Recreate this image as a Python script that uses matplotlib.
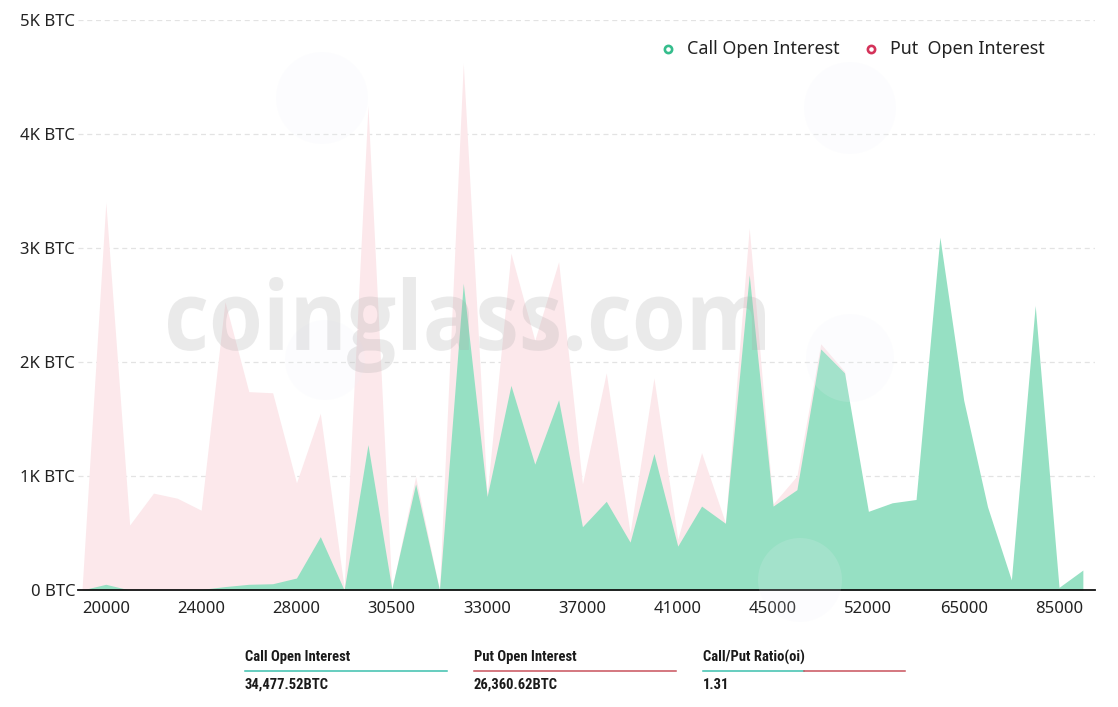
import numpy as np
from matplotlib import pyplot as plt
from matplotlib import font_manager
from matplotlib.font_manager import FontProperties
from matplotlib.textpath import TextPath
from matplotlib.patches import PathPatch, Circle
from matplotlib.transforms import Affine2D, IdentityTransform
from matplotlib.lines import Line2D

# strike prices (x categories)
strikes = [19000, 20000, 21000, 22000, 23000, 24000, 25000, 26000, 27000, 28000,
           29000, 29500, 30000, 30500, 31000, 31500, 32000, 33000, 34000, 35000,
           36000, 37000, 38000, 39000, 40000, 41000, 42000, 43000, 44000, 45000,
           46000, 48000, 50000, 52000, 55000, 58000, 60000, 65000, 70000, 75000,
           80000, 85000, 90000]

# open interest per strike, BTC
call_oi = [0, 50, 0, 0, 0, 5, 30, 50, 55, 105,
           468, 0, 1275, 10, 930, 0, 2690, 820, 1795, 1104,
           1669, 555, 778, 420, 1197, 385, 736, 585, 2765, 736,
           880, 2114, 1904, 690, 765, 794, 3095, 1664, 730, 88,
           2496, 23, 175]
put_oi = [0, 3400, 570, 850, 805, 700, 2530, 1740, 1730, 940,
          1550, 20, 4245, 0, 995, 0, 4620, 840, 2955, 2190,
          2880, 930, 1905, 500, 1860, 445, 1205, 590, 3175, 755,
          1000, 2160, 1918, 300, 210, 150, 420, 360, 120, 30,
          60, 0, 10]

y_ticks = [0, 1000, 2000, 3000, 4000, 5000]
y_labels = ["0 BTC", "1K BTC", "2K BTC", "3K BTC", "4K BTC", "5K BTC"]

stat_names = ["Call Open Interest", "Put Open Interest", "Call/Put Ratio(oi)"]
stat_values = ["34,477.52BTC", "26,360.62BTC", "1.31"]

GREEN_FILL = "#96e0c3"
PINK_FILL = "#fce8eb"
GREEN = "#35bd8c"
RED = "#d4335a"
TEAL_LINE = "#3cc0ae"
RED_LINE = "#c9525c"

W, H = 1118, 707


def pick_font(names):
    for n in names:
        try:
            font_manager.findfont(FontProperties(family=n), fallback_to_default=False)
            return n
        except ValueError:
            pass
    return "DejaVu Sans"


main_font = pick_font(["Noto Sans", "Open Sans", "DejaVu Sans"])
stat_font = pick_font(["Liberation Sans Narrow", "Roboto Condensed", "Roboto"])
plt.rcParams["font.family"] = [main_font, "DejaVu Sans"]

fig = plt.figure(figsize=(W / 100, H / 100), dpi=100)
ax = fig.add_axes([78 / W, 1 - 590 / H, (1095 - 78) / W, 570 / H])

x = np.arange(len(strikes))
ax.fill_between(x, put_oi, color=PINK_FILL, lw=0, zorder=2)
ax.fill_between(x, call_oi, color=GREEN_FILL, lw=0, zorder=3)

ax.set_xlim((78 - 82) / 23.83, (1095 - 82) / 23.83)
ax.set_ylim(0, 5000)
ax.set_yticks(y_ticks)
ax.set_yticklabels(y_labels)
ax.set_xticks(x[1::4])
ax.set_xticklabels([str(s) for s in strikes[1::4]])
ax.tick_params(axis="both", length=0, labelsize=12, colors="#222222")
ax.tick_params(axis="x", pad=8)
ax.tick_params(axis="y", pad=2)

for v in y_ticks[1:]:
    ax.axhline(v, color="#e3e3e3", lw=0.9, ls=(0, (4, 3)), zorder=1)

for s in ["top", "right", "left"]:
    ax.spines[s].set_visible(False)
ax.spines["bottom"].set_color("#111111")
ax.spines["bottom"].set_linewidth(1.3)
ax.spines["bottom"].set_zorder(6)

# faint logo blobs
for cx, cy, r in [(322, 98, 46), (850, 108, 46), (850, 358, 44), (325, 360, 40), (800, 580, 42)]:
    fig.add_artist(Circle((cx, H - cy), r, transform=IdentityTransform(),
                          fc="#eef1fa", ec="none", alpha=0.15, zorder=4))

# watermark text fitted into its box
tp = TextPath((0, 0), "coinglass.com", size=100,
              prop=FontProperties(family="Open Sans", weight="bold"))
ext = tp.get_extents()
tr = (Affine2D().translate(-ext.x0, -ext.y0)
      .scale((765 - 168) / ext.width, (373 - 277) / ext.height)
      .translate(168, H - 373))
fig.add_artist(PathPatch(tr.transform_path(tp), transform=IdentityTransform(),
                         fc="#a8a8a8", ec="none", alpha=0.23, zorder=5))

# legend
for mx, color, label in [(668, GREEN, "Call Open Interest"), (871, RED, "Put  Open Interest")]:
    fig.add_artist(Line2D([mx / W], [1 - 49 / H], marker="o", ms=5.2, mfc="white",
                          mec=color, mew=1.9, ls="", transform=fig.transFigure))
    fig.text((mx + 19) / W, 1 - 49 / H, label, fontsize=12.9, color="#222222",
             va="center", ha="left")

# summary stats under the chart
for i, (name, val) in enumerate(zip(stat_names, stat_values)):
    x0 = 245 + 229 * i
    fig.text(x0 / W, 1 - 657 / H, name, fontsize=10.5, fontweight="bold",
             family=stat_font, color="#1a1a1a", va="center", ha="left")
    fig.text(x0 / W, 1 - 685 / H, val, fontsize=10.5, fontweight="bold",
             family=stat_font, color="#1a1a1a", va="center", ha="left")
    if i == 0:
        segs = [(x0, x0 + 202, TEAL_LINE)]
    elif i == 1:
        segs = [(x0, x0 + 202, RED_LINE)]
    else:
        segs = [(x0, x0 + 101, TEAL_LINE), (x0 + 101, x0 + 202, RED_LINE)]
    for a, b, c in segs:
        fig.add_artist(Line2D([a / W, b / W], [1 - 671 / H, 1 - 671 / H], color=c,
                              lw=1.1, transform=fig.transFigure))

fig.savefig("out.png", dpi=100)
